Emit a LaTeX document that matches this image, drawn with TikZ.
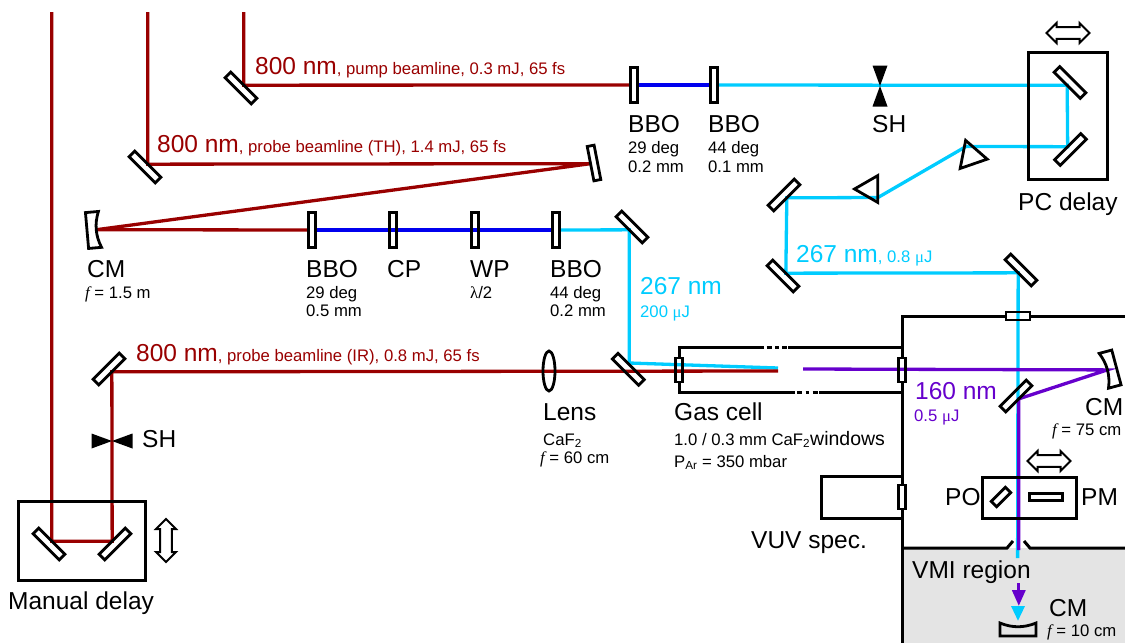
\documentclass[tikz,border=0pt]{standalone}
\usepackage{fontspec}
\setmainfont{Liberation Sans}
\newfontfamily\symbfam{Liberation Serif}
\usepackage{xcolor}
\usetikzlibrary{shapes.geometric, shapes.arrows, arrows.meta, positioning, backgrounds}

\definecolor{beamred}{HTML}{990000}
\definecolor{beamblue}{HTML}{0000EE}
\definecolor{beamcyan}{HTML}{00CCFF}
\definecolor{beamviolet}{HTML}{6600CC}
\definecolor{vmigray}{HTML}{E4E4E4}

\newcommand{\smalltxt}{\fontsize{16.7}{18}\selectfont}
\newcommand{\focal}{{\symbfam\itshape f}}
\newcommand{\micro}{{\symbfam μ}}

\begin{document}
\begin{tikzpicture}[
    x=1pt, y=-1pt,
    >=Stealth,
    mirror/.style={rectangle, draw, line width=2.8pt, minimum width=37pt, minimum height=8pt, inner sep=0pt, outer sep=0pt},
    plate/.style={rectangle, draw, line width=2.8pt, minimum width=7pt, minimum height=35pt, inner sep=0pt, outer sep=0pt},
    winbox/.style={rectangle, draw, line width=2.8pt, inner sep=0pt, outer sep=0pt},
    unitbox/.style={rectangle, draw, line width=3pt, inner sep=0pt, outer sep=0pt},
    wall/.style={line width=3pt},
    prism/.style={regular polygon, regular polygon sides=3, draw, line width=2.8pt, inner sep=0pt, outer sep=0pt},
    movearr/.style={double arrow, draw, line width=2pt, inner sep=4.5pt, outer sep=0pt, double arrow head extend=4pt},
    beam/.style={line width=3.3pt},
    biglab/.style={anchor=base west, inner sep=0pt, font=\fontsize{24.5}{28}\selectfont},
    smalllab/.style={anchor=base west, inner sep=0pt, font=\smalltxt},
    pics/curvemirror/.style={code={
        \draw[line width=2.8pt] (-6,-18) -- (7,-18) .. controls (2,-6) and (2,6) .. (7,18) -- (-6,18) -- cycle;
        \coordinate (-face) at (3.5,0);
    }},
    pics/shutter/.style={code={
        \fill (-20.5,-7.5) -- (0,0) -- (-20.5,7.5) -- cycle;
        \fill (20.5,-7.5) -- (0,0) -- (20.5,7.5) -- cycle;
    }},
]
\useasboundingbox (0,0) rectangle (1125,643);

% === Mirrors ===
\node[mirror, rotate=-45] (pumpm) at (241,88) {};
\node[mirror, rotate=-45] (thm) at (145,167) {};
\node[plate, rotate=11] (tiltm) at (594,163) {};
\node[mirror, rotate=-45] (thcyan) at (632,227) {};
\node[mirror, rotate=-45] (mixm) at (628.3,369.3) {};
\node[mirror, rotate=45] (irm) at (109,369) {};
\node[mirror, rotate=-45] (delayl) at (49,544) {};
\node[mirror, rotate=45] (delayr) at (115,544) {};
\node[mirror, rotate=-45] (pcu) at (1070,82.5) {};
\node[mirror, rotate=45] (pcl) at (1070.5,149.5) {};
\node[mirror, rotate=45] (turna) at (784,195) {};
\node[mirror, rotate=-45] (turnb) at (783,276) {};
\node[mirror, rotate=-45] (turnc) at (1021,270) {};
\node[mirror, rotate=45] (vuvm) at (1016,396) {};

% === Curved mirrors ===
\pic[rotate=5] (cml) at (93,230) {curvemirror};
\pic[rotate=195] (cmr) at (1110.6,369) {curvemirror};
\pic[rotate=90] (cmv) at (1018,630) {curvemirror};

% === Crystals and plates ===
\node[plate] (bbop) at (634,85) {};
\node[plate] (bboq) at (714,85) {};
\node[plate] (bbor) at (312,230) {};
\node[plate] (cpl) at (393,230) {};
\node[plate] (wpl) at (475,230) {};
\node[plate] (bbos) at (556,230) {};
\node[ellipse, draw, line width=2.8pt, minimum width=12pt, minimum height=40pt, inner sep=0pt, outer sep=0pt] (lens) at (549,371) {};

% === Shutters, prisms ===
\pic at (112,441) {shutter};
\pic[rotate=90] at (880,86) {shutter};
\node[prism, minimum size=33pt, rotate=19] (prisma) at (971,156) {};
\node[prism, minimum size=31pt, rotate=90] (prismb) at (870,189) {};

% === Delay stages ===
\node[unitbox, minimum width=127pt, minimum height=79pt] (mandelay) at (81.5,540.5) {};
\node[unitbox, minimum width=79pt, minimum height=127pt] (pcdelay) at (1067.5,116) {};
\node[unitbox, minimum width=94pt, minimum height=41pt] (pobox) at (1029,497.5) {};
\node[movearr, minimum width=20pt, minimum height=43pt] (movea) at (1068,33) {};
\node[movearr, minimum width=20pt, minimum height=43pt] (moveb) at (1049,461) {};
\node[movearr, minimum width=20pt, minimum height=43pt, rotate=90] (movec) at (166,540.5) {};
\node[winbox, minimum width=7.5pt, minimum height=20pt, rotate=-45] (poplate) at (1001,497) {};
\node[winbox, minimum width=33pt, minimum height=7.5pt] (pmplate) at (1046,497) {};

% === Windows ===
\node[winbox, minimum width=24pt, minimum height=8pt] (wintop) at (1018,316) {};
\node[winbox, minimum width=7pt, minimum height=24pt] (wincell) at (679,370) {};
\node[winbox, minimum width=7pt, minimum height=24pt] (winside) at (902,370) {};
\node[winbox, minimum width=7pt, minimum height=24pt] (winvuv) at (902,497) {};

% === Chamber and gas cell walls ===
\draw[wall] (1125,316) -- (wintop.east);
\draw[wall] (wintop.west) -- (902,316) -- (winside.north);
\draw[wall] (winside.south) -- (winvuv.north);
\draw[wall] (winvuv.south) -- (902,643);
\draw[wall] (902,476) -- (821,476) -- (821,518) -- (902,518);
\draw[wall] (902,548) -- (1007,548) -- (1013,541);
\draw[wall] (1125,548) -- (1030,548) -- (1024,541);
\draw[wall] (902,347) -- (788,347);
\draw[wall, dash pattern=on 5pt off 3.5pt on 3.5pt off 3.5pt on 5pt off 10pt] (766.5,347) -- (787,347);
\draw[wall] (764,347) -- (679,347) -- (wincell.north);
\draw[wall] (wincell.south) -- (679,392) -- (795,392);
\draw[wall, dash pattern=on 5pt off 3.5pt on 3.5pt off 3.5pt on 5pt off 10pt] (797,392) -- (818,392);
\draw[wall] (819,392) -- (902,392);

% === Free beam ends ===
\coordinate (top) at (0,12);
\coordinate (gasin) at (629.2,363);
\coordinate (gasred) at (778,371);
\coordinate (gascyan) at (778,368);
\coordinate (gasviolet) at (803,369);
\coordinate (prismahit) at (966,146.5);
\coordinate (prismbhit) at (878,197.5);
\coordinate (cyanend) at (1017.6,558);
\coordinate (violetend) at (1018.8,550);
\coordinate (violetstub) at (1018.8,583);
\coordinate (violettip) at (1018.8,606);
\coordinate (cyanstub) at (1018,606);
\coordinate (cyantip) at (1018,621);

% === Beams ===
\begin{scope}[on background layer]
\fill[vmigray] (902,548) rectangle (1125,643);
\draw[beam, beamred] (pumpm.north |- top) -- (pumpm.north) -- (bbop);
\draw[beam, beamblue] (bbop) -- (bboq);
\draw[beam, beamcyan] (bboq) -- (pcu.south) -- (pcl.north) -- (prismahit) -- (prismbhit) -- (turna.south) -- (turnb.north) -- (turnc.south) -- (cyanend);
\draw[beam, beamred] (thm.north |- top) -- (thm.north) -- (tiltm.west) -- (cml-face) -- (bbor);
\draw[beam, beamblue] (bbor) -- (bbos);
\draw[beam, beamcyan] (bbos) -- (thcyan.south) -- (gasin) -- (gascyan);
\draw[beam, beamred] (delayl.north |- top) -- (delayl.north) -- (delayr.north) -- (irm.south) -- (gasred);
\draw[beam, beamviolet] (gasviolet) -- (cmr-face) -- (vuvm.south) -- (violetend);
\draw[beam, beamviolet, -{Triangle[length=16pt,width=13pt]}] (violetstub) -- (violettip);
\draw[beam, beamcyan, -{Triangle[length=15pt,width=13pt]}] (cyanstub) -- (cyantip);
\end{scope}

% === Beam labels ===
\node[biglab, text=beamred] (pumplab) at (255,74) {800 nm{\smalltxt, pump beamline, 0.3 mJ, 65 fs}};
\node[biglab, text=beamred] (thlab) at (157,152) {800 nm{\smalltxt, probe beamline (TH), 1.4 mJ, 65 fs}};
\node[biglab, text=beamred] (irlab) at (136,361) {800 nm{\smalltxt, probe beamline (IR), 0.8 mJ, 65 fs}};
\node[biglab, text=beamcyan] (uvlab) at (640,294) {267 nm};
\node[smalllab, text=beamcyan] (uvsub) at (640,317) {200 \micro J};
\node[biglab, text=beamcyan] (uvplab) at (796,262) {267 nm{\smalltxt, 0.8 \micro J}};
\node[biglab, text=beamviolet] (vuvlab) at (915,399) {160 nm};
\node[smalllab, text=beamviolet] (vuvsub) at (914,421) {0.5 \micro J};

% === Component labels, probe line ===
\node[biglab] (cmllab) at (87,277) {CM};
\node[smalllab] (cmlsub) at (85,298) {\focal{} = 1.5 m};
\node[biglab] (bborlab) at (306,277) {BBO};
\node[smalllab] (bborsuba) at (306,298) {29 deg};
\node[smalllab] (bborsubb) at (306,316) {0.5 mm};
\node[biglab] (cpllab) at (387,277) {CP};
\node[biglab] (wpllab) at (470,277) {WP};
\node[smalllab] (wplsub) at (470,298) {{\symbfam λ}/2};
\node[biglab] (bboslab) at (550,277) {BBO};
\node[smalllab] (bbossuba) at (550,298) {44 deg};
\node[smalllab] (bbossubb) at (550,316) {0.2 mm};

% === Component labels, pump line ===
\node[biglab] (bboplab) at (628,132) {BBO};
\node[smalllab] (bbopsuba) at (628,153) {29 deg};
\node[smalllab] (bbopsubb) at (628,172) {0.2 mm};
\node[biglab] (bboqlab) at (708,132) {BBO};
\node[smalllab] (bboqsuba) at (708,153) {44 deg};
\node[smalllab] (bboqsubb) at (708,172) {0.1 mm};
\node[biglab] (shplab) at (872,132) {SH};
\node[biglab] (pclab) at (1018,210) {PC delay};

% === Component labels, gas cell and chamber ===
\node[biglab] (lenslab) at (543,420) {Lens};
\node[smalllab] (lenssuba) at (543,445) {CaF\textsubscript{2}};
\node[smalllab] (lenssubb) at (540,463) {\focal{} = 60 cm};
\node[biglab] (gaslab) at (674,420) {Gas cell};
\node[smalllab] (gassuba) at (674,445) {1.0 / 0.3 mm CaF\textsubscript{2}{\fontsize{19.5}{20}\selectfont windows}};
\node[smalllab] (gassubb) at (674,467) {P\textsubscript{Ar} = 350 mbar};
\node[biglab] (cmrlab) at (1085,415) {CM};
\node[smalllab] (cmrsub) at (1052,435) {\focal{} = 75 cm};
\node[biglab] (polab) at (945,505) {PO};
\node[biglab] (pmlab) at (1081,505) {PM};
\node[biglab] (vuvspec) at (751,548) {VUV spec.};
\node[biglab] (vmilab) at (912,578) {VMI region};
\node[biglab] (cmvlab) at (1049,616) {CM};
\node[smalllab] (cmvsub) at (1047,636) {\focal{} = 10 cm};

% === Manual delay labels ===
\node[biglab] (shilab) at (142,447) {SH};
\node[biglab] (mandelaylab) at (8,609) {Manual delay};

\end{tikzpicture}
\end{document}
